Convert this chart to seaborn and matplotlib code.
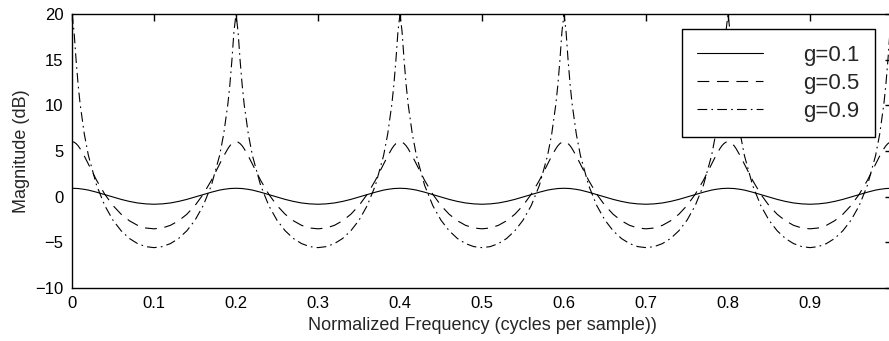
import seaborn as sns
import pandas as pd
import matplotlib
matplotlib.use("Agg")
import matplotlib.pyplot as plt
from matplotlib.ticker import FuncFormatter

# normalized frequency samples (denser next to the peaks)
freq = [
    0.0, 0.0025, 0.005, 0.0075, 0.01, 0.015, 0.02, 0.03, 0.04, 0.05, 0.06, 0.07, 0.08, 0.09,
    0.10, 0.11, 0.12, 0.13, 0.14, 0.15, 0.16, 0.17, 0.18, 0.185, 0.19, 0.1925, 0.195, 0.1975,
    0.2, 0.2025, 0.205, 0.2075, 0.21, 0.215, 0.22, 0.23, 0.24, 0.25, 0.26, 0.27, 0.28, 0.29,
    0.30, 0.31, 0.32, 0.33, 0.34, 0.35, 0.36, 0.37, 0.38, 0.385, 0.39, 0.3925, 0.395, 0.3975,
    0.4, 0.4025, 0.405, 0.4075, 0.41, 0.415, 0.42, 0.43, 0.44, 0.45, 0.46, 0.47, 0.48, 0.49,
    0.50, 0.51, 0.52, 0.53, 0.54, 0.55, 0.56, 0.57, 0.58, 0.585, 0.59, 0.5925, 0.595, 0.5975,
    0.6, 0.6025, 0.605, 0.6075, 0.61, 0.615, 0.62, 0.63, 0.64, 0.65, 0.66, 0.67, 0.68, 0.69,
    0.70, 0.71, 0.72, 0.73, 0.74, 0.75, 0.76, 0.77, 0.78, 0.785, 0.79, 0.7925, 0.795, 0.7975,
    0.8, 0.8025, 0.805, 0.8075, 0.81, 0.815, 0.82, 0.83, 0.84, 0.85, 0.86, 0.87, 0.88, 0.89,
    0.90, 0.91, 0.92, 0.93, 0.94, 0.95, 0.96, 0.97, 0.98, 0.985, 0.99, 0.9925, 0.995, 0.9975,
    1.0,
]

# magnitude in dB for each g
mag_g01 = [
    0.92, 0.91, 0.90, 0.89, 0.86, 0.80, 0.72, 0.49, 0.23, -0.04, -0.30, -0.52, -0.69, -0.79,
    -0.83, -0.79, -0.69, -0.52, -0.30, -0.04, 0.23, 0.49, 0.72, 0.80, 0.86, 0.89, 0.90, 0.91,
    0.92, 0.91, 0.90, 0.89, 0.86, 0.80, 0.72, 0.49, 0.23, -0.04, -0.30, -0.52, -0.69, -0.79,
    -0.83, -0.79, -0.69, -0.52, -0.30, -0.04, 0.23, 0.49, 0.72, 0.80, 0.86, 0.89, 0.90, 0.91,
    0.92, 0.91, 0.90, 0.89, 0.86, 0.80, 0.72, 0.49, 0.23, -0.04, -0.30, -0.52, -0.69, -0.79,
    -0.83, -0.79, -0.69, -0.52, -0.30, -0.04, 0.23, 0.49, 0.72, 0.80, 0.86, 0.89, 0.90, 0.91,
    0.92, 0.91, 0.90, 0.89, 0.86, 0.80, 0.72, 0.49, 0.23, -0.04, -0.30, -0.52, -0.69, -0.79,
    -0.83, -0.79, -0.69, -0.52, -0.30, -0.04, 0.23, 0.49, 0.72, 0.80, 0.86, 0.89, 0.90, 0.91,
    0.92, 0.91, 0.90, 0.89, 0.86, 0.80, 0.72, 0.49, 0.23, -0.04, -0.30, -0.52, -0.69, -0.79,
    -0.83, -0.79, -0.69, -0.52, -0.30, -0.04, 0.23, 0.49, 0.72, 0.80, 0.86, 0.89, 0.90, 0.91,
    0.92,
]
mag_g05 = [
    6.02, 5.97, 5.81, 5.57, 5.24, 4.45, 3.56, 1.79, 0.26, -0.97, -1.93, -2.64, -3.14, -3.43,
    -3.52, -3.43, -3.14, -2.64, -1.93, -0.97, 0.26, 1.79, 3.56, 4.45, 5.24, 5.57, 5.81, 5.97,
    6.02, 5.97, 5.81, 5.57, 5.24, 4.45, 3.56, 1.79, 0.26, -0.97, -1.93, -2.64, -3.14, -3.43,
    -3.52, -3.43, -3.14, -2.64, -1.93, -0.97, 0.26, 1.79, 3.56, 4.45, 5.24, 5.57, 5.81, 5.97,
    6.02, 5.97, 5.81, 5.57, 5.24, 4.45, 3.56, 1.79, 0.26, -0.97, -1.93, -2.64, -3.14, -3.43,
    -3.52, -3.43, -3.14, -2.64, -1.93, -0.97, 0.26, 1.79, 3.56, 4.45, 5.24, 5.57, 5.81, 5.97,
    6.02, 5.97, 5.81, 5.57, 5.24, 4.45, 3.56, 1.79, 0.26, -0.97, -1.93, -2.64, -3.14, -3.43,
    -3.52, -3.43, -3.14, -2.64, -1.93, -0.97, 0.26, 1.79, 3.56, 4.45, 5.24, 5.57, 5.81, 5.97,
    6.02, 5.97, 5.81, 5.57, 5.24, 4.45, 3.56, 1.79, 0.26, -0.97, -1.93, -2.64, -3.14, -3.43,
    -3.52, -3.43, -3.14, -2.64, -1.93, -0.97, 0.26, 1.79, 3.56, 4.45, 5.24, 5.57, 5.81, 5.97,
    6.02,
]
mag_g09 = [
    20.00, 18.08, 14.93, 12.24, 10.08, 6.86, 4.51, 1.24, -0.98, -2.58, -3.74, -4.58, -5.14, -5.47,
    -5.58, -5.47, -5.14, -4.58, -3.74, -2.58, -0.98, 1.24, 4.51, 6.86, 10.08, 12.24, 14.93, 18.08,
    20.00, 18.08, 14.93, 12.24, 10.08, 6.86, 4.51, 1.24, -0.98, -2.58, -3.74, -4.58, -5.14, -5.47,
    -5.58, -5.47, -5.14, -4.58, -3.74, -2.58, -0.98, 1.24, 4.51, 6.86, 10.08, 12.24, 14.93, 18.08,
    20.00, 18.08, 14.93, 12.24, 10.08, 6.86, 4.51, 1.24, -0.98, -2.58, -3.74, -4.58, -5.14, -5.47,
    -5.58, -5.47, -5.14, -4.58, -3.74, -2.58, -0.98, 1.24, 4.51, 6.86, 10.08, 12.24, 14.93, 18.08,
    20.00, 18.08, 14.93, 12.24, 10.08, 6.86, 4.51, 1.24, -0.98, -2.58, -3.74, -4.58, -5.14, -5.47,
    -5.58, -5.47, -5.14, -4.58, -3.74, -2.58, -0.98, 1.24, 4.51, 6.86, 10.08, 12.24, 14.93, 18.08,
    20.00, 18.08, 14.93, 12.24, 10.08, 6.86, 4.51, 1.24, -0.98, -2.58, -3.74, -4.58, -5.14, -5.47,
    -5.58, -5.47, -5.14, -4.58, -3.74, -2.58, -0.98, 1.24, 4.51, 6.86, 10.08, 12.24, 14.93, 18.08,
    20.00,
]

labels = ["g=0.1", "g=0.5", "g=0.9"]
styles = ["-", (0, (8.5, 5.5)), (0, (7, 3, 1.2, 3))]

sns.set_style("white")
plt.rcParams["font.family"] = ["Liberation Sans", "DejaVu Sans"]
plt.rcParams["lines.scale_dashes"] = False
plt.rcParams["axes.unicode_minus"] = True

fig = plt.figure(figsize=(8.89, 3.41), dpi=100)
# the original picture is cropped on the right, so the axes run past the figure edge
ax = fig.add_axes([72 / 889, 53 / 341, 820 / 889, 274 / 341])

for mags, lab, ls in zip([mag_g01, mag_g05, mag_g09], labels, styles):
    df = pd.DataFrame({"freq": freq, "mag": mags})
    sns.lineplot(data=df, x="freq", y="mag", ax=ax, color="black", lw=0.8,
                 linestyle=ls, label=lab, estimator=None, sort=False)

ax.set_xlim(0, 1)
ax.set_ylim(-10, 20)
ax.set_xticks([i / 10 for i in range(11)])
ax.set_yticks(range(-10, 21, 5))
# the "1" label falls outside the cropped picture
ax.xaxis.set_major_formatter(FuncFormatter(
    lambda v, p: "0" if v == 0 else ("" if v >= 1 else f"{v:g}")))
ax.tick_params(direction="in", length=5, width=1, top=True, right=True,
               labelsize=12, colors="black", pad=6)
for sp in ax.spines.values():
    sp.set_visible(True)
    sp.set_color("black")
    sp.set_linewidth(1.0)

ax.set_xlabel("Normalized Frequency (cycles per sample))", fontsize=13, labelpad=4)
ax.set_ylabel("Magnitude (dB)", fontsize=13, labelpad=4)

leg = ax.legend(loc="upper right", bbox_to_anchor=(0.979, 0.945), fontsize=16,
                frameon=True, fancybox=False, edgecolor="black", framealpha=1,
                handlelength=2.95, handletextpad=1.8, labelspacing=0.32,
                borderpad=0.7, borderaxespad=0)
leg.get_frame().set_linewidth(1.0)

fig.savefig("out.png", dpi=100)
